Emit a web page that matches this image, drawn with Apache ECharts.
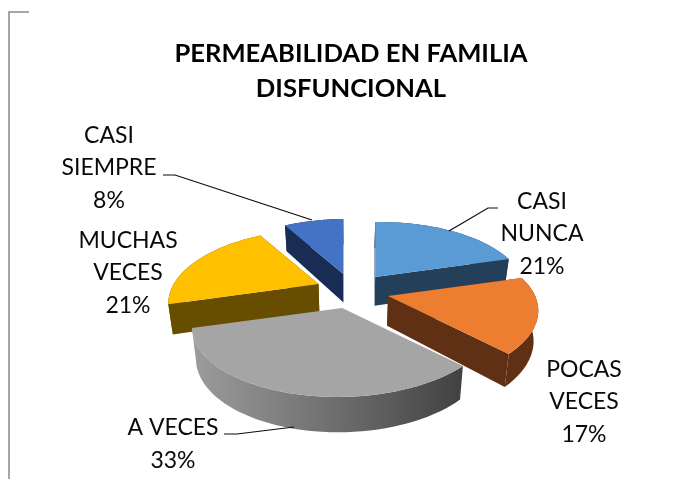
<!DOCTYPE html>
<html>
<head>
<meta charset="utf-8">
<style>
  html, body { margin: 0; padding: 0; background: #fff; }
  #chart { width: 682px; height: 479px; }
</style>
<script src="https://cdn.jsdelivr.net/npm/echarts@6/dist/echarts.min.js"></script>
</head>
<body>
<div id="chart"></div>
<script>
const categories = ['CASI\nNUNCA', 'POCAS\nVECES', 'A VECES', 'MUCHAS\nVECES', 'CASI\nSIEMPRE']
const values = [21, 17, 33, 21, 8]
const topColors = ['#5b9bd5', '#ed7d31', '#a5a5a5', '#ffc000', '#4472c4']
const wallColors = ['#243f5a', '#5f3013', '#6e6e6e', '#664d00', '#182c54']
// back slices first so the front ones cover them
const drawOrder = [4, 0, 3, 1, 2]

const labelPos = [[542, 234], [584, 402], [173, 444], [128, 273], [109, 168]]
const leaders = [
  [[498, 208], [488, 208], [449, 231]],
  [],
  [[224, 434], [237, 434], [294, 427]],
  [],
  [[163, 175], [175, 175], [312, 220]]
]

const total = values.reduce((a, b) => a + b, 0)

// pie tilted with a bit of perspective, angles clockwise from the top
const pie = { cx: 352.5, cy: 291, rx: 146, ry: 68, persp: 0.236, skew: 0.015, explodeX: 37, explodeY: 17.6 }

function rimPoint(theta, apex) {
  const d = 1 + pie.persp * Math.cos(theta)
  const dx = pie.rx * Math.sin(theta) / d
  return [apex[0] + dx, apex[1] - pie.ry * Math.cos(theta) / d - pie.skew * dx]
}

function lower(p) {
  return [350 + (p[0] - 350) * 0.975, p[1] + 29.5 + (p[1] - 291) * 0.055]
}

function renderSlice(params, api) {
  const i = api.value(0)
  const before = values.slice(0, i).reduce((a, b) => a + b, 0)
  const a0 = before / total * Math.PI * 2
  const a1 = (before + values[i]) / total * Math.PI * 2
  const mid = (a0 + a1) / 2
  const apex = [pie.cx + pie.explodeX * Math.sin(mid), pie.cy - pie.explodeY * Math.cos(mid)]

  const arc = []
  const steps = 48
  for (let s = 0; s <= steps; s++) {
    arc.push(rimPoint(a0 + (a1 - a0) * s / steps, apex))
  }
  const arcLow = arc.map(lower).reverse()
  const wallFill = i === 2
    ? new echarts.graphic.LinearGradient(0, 0, 1, 0, [
      { offset: 0, color: '#9c9c9c' },
      { offset: 0.55, color: '#6c6c6c' },
      { offset: 1, color: '#414141' }
    ])
    : wallColors[i]

  const children = [
    { type: 'polygon', shape: { points: arc.concat(arcLow) }, style: { fill: wallFill } }
  ]
  // the big front slice shows no cut faces
  if (i !== 2) {
    children.push({
      type: 'polygon',
      shape: { points: [apex, arc[0], lower(arc[0]), lower(apex)] },
      style: { fill: wallColors[i] }
    }, {
      type: 'polygon',
      shape: { points: [apex, arc[steps], lower(arc[steps]), lower(apex)] },
      style: { fill: wallColors[i] }
    })
  }
  children.push({ type: 'polygon', shape: { points: [apex].concat(arc) }, style: { fill: topColors[i] } })
  return { type: 'group', children }
}

function renderLabel(params, api) {
  const i = api.value(0)
  const children = [{
    type: 'text',
    x: labelPos[i][0],
    y: labelPos[i][1],
    style: {
      text: categories[i] + '\n' + values[i] + '%',
      font: '23px Lato',
      lineHeight: 32.5,
      fill: '#0a0a0a',
      align: 'center',
      verticalAlign: 'middle'
    }
  }]
  if (leaders[i].length) {
    children.push({
      type: 'polyline',
      shape: { points: leaders[i] },
      style: { stroke: '#0a0a0a', lineWidth: 1.2, fill: 'none' }
    })
  }
  return { type: 'group', children }
}

const chart = echarts.init(document.getElementById('chart'))
chart.setOption({
  animation: false,
  backgroundColor: '#fff',
  title: {
    text: 'PERMEABILIDAD EN FAMILIA\nDISFUNCIONAL',
    left: 346,
    top: 31,
    textAlign: 'center',
    textStyle: { fontFamily: 'Lato', fontWeight: 'bold', fontSize: 25.6, lineHeight: 35, color: '#000' }
  },
  graphic: [{
    type: 'polyline',
    shape: { points: [[29, 12], [9, 12], [9, 479]] },
    style: { stroke: '#a6a6a6', lineWidth: 2, fill: 'none' }
  }],
  series: [
    { type: 'custom', coordinateSystem: 'none', renderItem: renderSlice, data: drawOrder.map(i => [i]), silent: true, z: 2 },
    { type: 'custom', coordinateSystem: 'none', renderItem: renderLabel, data: values.map((v, i) => [i]), silent: true, z: 3 }
  ]
})
</script>
</body>
</html>
